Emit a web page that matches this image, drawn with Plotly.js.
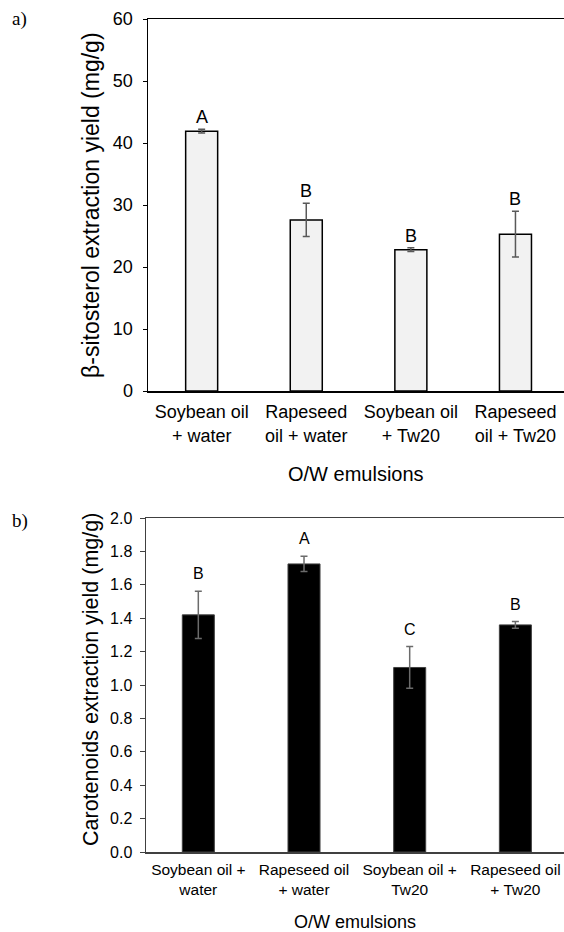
<!DOCTYPE html>
<html>
<head>
<meta charset="utf-8">
<script src="https://cdn.plot.ly/plotly-3.0.1.min.js"></script>
<style>html,body{margin:0;padding:0;background:#fff;}#chart{width:564px;height:932px;}</style>
</head>
<body>
<div id="chart"></div>
<script>
// ---- Data ----
const categoriesA = ["Soybean oil<br>+ water", "Rapeseed<br>oil + water", "Soybean oil<br>+ Tw20", "Rapeseed<br>oil + Tw20"];
const sitosterolYield = [41.9, 27.6, 22.8, 25.3];
const sitosterolErr = [0.3, 2.7, 0.3, 3.7];
const sitosterolLetters = ["A", "B", "B", "B"];
const yTicksA = [0, 10, 20, 30, 40, 50, 60];

const categoriesB = ["Soybean oil +<br>water", "Rapeseed oil<br>+ water", "Soybean oil +<br>Tw20", "Rapeseed oil<br>+ Tw20"];
const carotenoidsYield = [1.42, 1.725, 1.105, 1.36];
const carotenoidsErr = [0.142, 0.046, 0.125, 0.02];
const carotenoidsLetters = ["B", "A", "C", "B"];
const yTicksB = [0.0, 0.2, 0.4, 0.6, 0.8, 1.0, 1.2, 1.4, 1.6, 1.8, 2.0];

const FONT = "'Liberation Sans', Arial, sans-serif";
const SERIF = "'Liberation Serif', 'Times New Roman', serif";
const idxA = categoriesA.map((_, i) => i);
const idxB = categoriesB.map((_, i) => i);

const traces = [
  {
    type: "bar", x: idxA, y: sitosterolYield, xaxis: "x", yaxis: "y",
    width: 0.306,
    marker: {color: "#f2f2f2", line: {color: "#000000", width: 1.5}},
    error_y: {type: "data", array: sitosterolErr, visible: true, color: "#595959", thickness: 1.5, width: 3.5},
    hoverinfo: "skip", showlegend: false
  },
  {
    type: "bar", x: idxB, y: carotenoidsYield, xaxis: "x2", yaxis: "y2",
    width: 0.303,
    marker: {color: "#000000", line: {color: "#404040", width: 1}},
    error_y: {type: "data", array: carotenoidsErr, visible: true, color: "#6b6b6b", thickness: 1.5, width: 3.5},
    hoverinfo: "skip", showlegend: false
  }
];

const annotations = [];
sitosterolLetters.forEach((t, i) => annotations.push({
  xref: "x", yref: "y", x: i, y: sitosterolYield[i] + sitosterolErr[i], text: t,
  showarrow: false, yanchor: "bottom", yshift: 0, font: {family: FONT, size: 18, color: "#000"}
}));
carotenoidsLetters.forEach((t, i) => annotations.push({
  xref: "x2", yref: "y2", x: i, y: carotenoidsYield[i] + carotenoidsErr[i], text: t,
  showarrow: false, yanchor: "bottom", yshift: 7, font: {family: FONT, size: 16, color: "#000"}
}));
// panel letters
annotations.push({xref: "paper", yref: "paper", x: 10/564, y: 1 - 19/932, xanchor: "left", yanchor: "middle",
  text: "a)", showarrow: false, font: {family: SERIF, size: 19, color: "#000"}});
annotations.push({xref: "paper", yref: "paper", x: 10/564, y: 1 - 521/932, xanchor: "left", yanchor: "middle",
  text: "b)", showarrow: false, font: {family: SERIF, size: 19, color: "#000"}});
// axis titles
annotations.push({xref: "paper", yref: "paper", x: 91/564, y: 1 - 205/932, xanchor: "center", yanchor: "middle", textangle: -90,
  text: "β-sitosterol extraction yield (mg/g)", showarrow: false, font: {family: FONT, size: 23, color: "#000"}});
annotations.push({xref: "paper", yref: "paper", x: 356/564, y: 1 - 474/932, xanchor: "center", yanchor: "middle",
  text: "O/W emulsions", showarrow: false, font: {family: FONT, size: 20, color: "#000"}});
annotations.push({xref: "paper", yref: "paper", x: 91/564, y: 1 - 680/932, xanchor: "center", yanchor: "middle", textangle: -90,
  text: "Carotenoids extraction yield (mg/g)", showarrow: false, font: {family: FONT, size: 21.5, color: "#000"}});
annotations.push({xref: "paper", yref: "paper", x: 355/564, y: 1 - 922/932, xanchor: "center", yanchor: "middle",
  text: "O/W emulsions", showarrow: false, font: {family: FONT, size: 18, color: "#000"}});

const layout = {
  width: 564, height: 932,
  margin: {l: 0, r: 0, t: 0, b: 0},
  paper_bgcolor: "#ffffff", plot_bgcolor: "#ffffff",
  font: {family: FONT, color: "#000"},
  showlegend: false,
  xaxis: {
    domain: [148/564, 1], anchor: "y", range: [-0.513, 3.464],
    tickmode: "array", tickvals: idxA, ticktext: categoriesA,
    showline: true, linecolor: "#000", linewidth: 1.5, mirror: true,
    ticks: "", ticklabelstandoff: 4, showgrid: false, zeroline: false, automargin: false,
    tickfont: {family: FONT, size: 18, color: "#000"}
  },
  yaxis: {
    domain: [1 - 391/932, 1 - 19/932], anchor: "x", range: [0, 60],
    tickmode: "array", tickvals: yTicksA, ticktext: yTicksA.map(String),
    showline: true, linecolor: "#000", linewidth: 1.5,
    ticks: "outside", ticklen: 4, tickwidth: 1, tickcolor: "#000",
    ticklabelstandoff: 6,
    showgrid: false, zeroline: false, automargin: false,
    tickfont: {family: FONT, size: 18, color: "#000"}
  },
  xaxis2: {
    domain: [146/564, 1], anchor: "y2", range: [-0.495, 3.46],
    tickmode: "array", tickvals: idxB, ticktext: categoriesB,
    showline: true, linecolor: "#404040", linewidth: 1.5, mirror: true,
    ticks: "", ticklabelstandoff: 3, showgrid: false, zeroline: false, automargin: false,
    tickfont: {family: FONT, size: 15.5, color: "#000"}
  },
  yaxis2: {
    domain: [1 - 852/932, 1 - 518/932], anchor: "x2", range: [0, 2.0],
    tickmode: "array", tickvals: yTicksB, ticktext: yTicksB.map(v => v.toFixed(1)),
    showline: true, linecolor: "#404040", linewidth: 1.5,
    ticks: "outside", ticklen: 5, tickwidth: 1, tickcolor: "#404040",
    ticklabelstandoff: 4,
    showgrid: false, zeroline: false, automargin: false,
    tickfont: {family: FONT, size: 16, color: "#000"}
  },
  annotations: annotations
};

Plotly.newPlot("chart", traces, layout, {displayModeBar: false, staticPlot: true});
</script>
</body>
</html>
